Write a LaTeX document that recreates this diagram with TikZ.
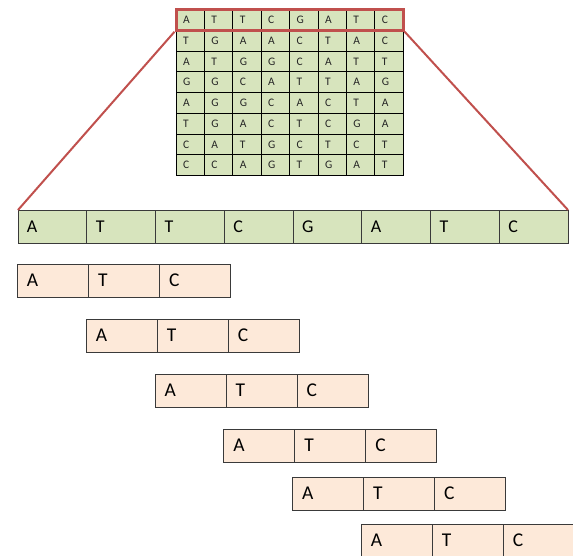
\documentclass[tikz,border=0pt]{standalone}
\usepackage{fontspec}
\setmainfont{Carlito}
\usetikzlibrary{fit}
\definecolor{leaf}{HTML}{D7E4BD}
\definecolor{peach}{HTML}{FDE9D9}
\definecolor{brick}{HTML}{C0504D}
\definecolor{edge}{HTML}{3A3A3A}
\tikzset{
  cellbase/.style={anchor=north west, outer sep=0pt, inner ysep=0pt, align=left},
  gridcell/.style={cellbase, draw=black, fill=leaf, line width=0.9pt,
    text width=14.4pt, inner xsep=7pt, minimum height=20.75pt,
    text=black!85, font=\fontsize{11.5}{12}\selectfont},
  bigcell/.style={cellbase, draw=edge, fill=leaf, line width=1pt,
    text width=50.75pt, inner xsep=9pt, minimum height=33pt,
    font=\fontsize{18}{20}\selectfont},
  smallcell/.style={cellbase, draw=edge, fill=peach, line width=1pt,
    text width=52pt, inner xsep=9.5pt, minimum height=33pt,
    font=\fontsize{19.5}{21}\selectfont},
  selbox/.style={draw=brick, line width=3pt, inner sep=0pt},
  redline/.style={draw=brick, line width=2pt}
}
\begin{document}
\begin{tikzpicture}[x=1pt,y=-1pt]
\useasboundingbox (0,0) rectangle (573,555);
\clip (0,0) rectangle (573,555);

% the 8x8 sequence matrix
\foreach \row [count=\r] in {
  {A,T,T,C,G,A,T,C},
  {T,G,A,A,C,T,A,C},
  {A,T,G,G,C,A,T,T},
  {G,G,C,A,T,T,A,G},
  {A,G,G,C,A,C,T,A},
  {T,G,A,C,T,C,G,A},
  {C,A,T,G,C,T,C,T},
  {C,C,A,G,T,G,A,T}} {
  \foreach \ch [count=\c] in \row {
    \node[gridcell] (g\r-\c) at ({176+(\c-1)*28.4}, {9.5+(\r-1)*20.75}) {\ch};
  }
}

% the first row, enlarged
\foreach \ch [count=\c] in {A,T,T,C,G,A,T,C} {
  \node[bigcell] (b\c) at ({18+(\c-1)*68.75}, 210) {\ch};
}

% sliding window of width three
\foreach \y [count=\r] in {264,319,374,429,477,524} {
  \foreach \ch [count=\c] in {A,T,C} {
    \node[smallcell] (s\r-\c) at ({17.5+(\r-1)*68.75+(\c-1)*71}, \y) {\ch};
  }
}

% highlight of the first row and its projection
\node[selbox, fit=(g1-1)(g1-8)] (sel) {};
\draw[redline] (sel.south west) -- (b1.north west);
\draw[redline] (sel.south east) -- (b8.north east);
\end{tikzpicture}
\end{document}
